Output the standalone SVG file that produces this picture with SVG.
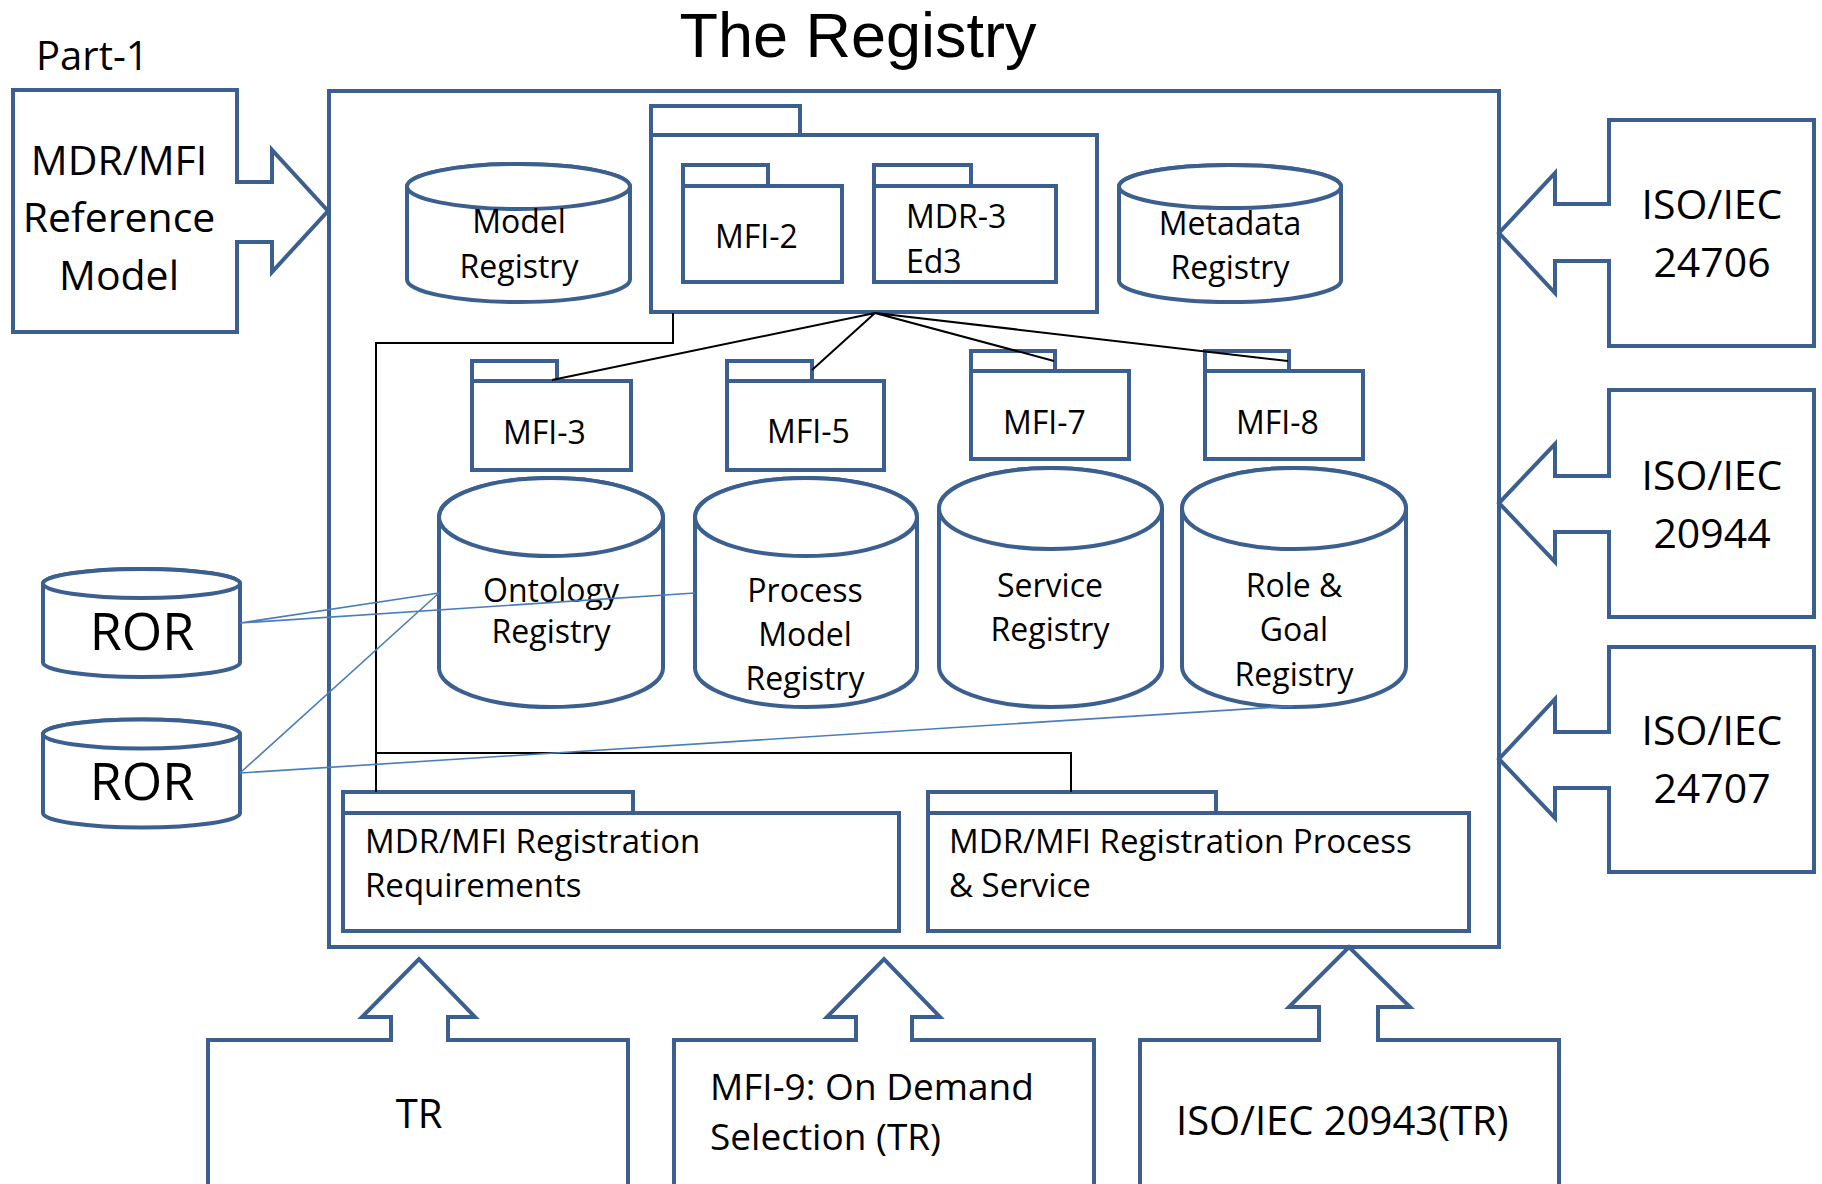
<svg xmlns="http://www.w3.org/2000/svg" width="1822" height="1184" viewBox="0 0 1822 1184">
<style>
.s{fill:#fff;stroke:#3b5f8e;stroke-width:4;stroke-linejoin:miter}
.t{font-family:"Open Sans","Noto Sans",sans-serif;fill:#000}
.c{text-anchor:middle}
.k{fill:none;stroke:#000;stroke-width:2}
.b{fill:none;stroke:#4a7ebb;stroke-width:1.6}
</style>
<rect width="1822" height="1184" fill="#fff"/>

<text x="858" y="57" font-family="'Liberation Sans',Arial,sans-serif" font-size="63" text-anchor="middle">The Registry</text>
<text class="t" x="36" y="70" font-size="40">Part-1</text>

<g id="registry">
<rect class="s" x="329" y="91" width="1170" height="856"/>
</g>

<g id="mdr-mfi-ref">
<path class="s" d="M13,90 H237 V182 H272 V150 L328,211 L272,272 V242 H237 V332 H13 Z"/>
<text class="t c" font-size="41"><tspan x="119" y="175">MDR/MFI</tspan><tspan x="119" y="232">Reference</tspan><tspan x="119" y="290">Model</tspan></text>
</g>

<g id="iso24706">
<path class="s" d="M1814,120 H1609 V204 H1555 V173 L1499,233 L1555,293 V261 H1609 V346 H1814 Z"/>
<text class="t c" font-size="41"><tspan x="1712" y="219">ISO/IEC</tspan><tspan x="1712" y="277">24706</tspan></text>
</g>
<g id="iso20944">
<path class="s" d="M1814,390 H1609 V476 H1555 V444 L1499,503 L1555,562 V532 H1609 V617 H1814 Z"/>
<text class="t c" font-size="41"><tspan x="1712" y="490">ISO/IEC</tspan><tspan x="1712" y="548">20944</tspan></text>
</g>
<g id="iso24707">
<path class="s" d="M1814,647 H1609 V732 H1555 V699 L1499,759 L1555,818 V788 H1609 V872 H1814 Z"/>
<text class="t c" font-size="41"><tspan x="1712" y="745">ISO/IEC</tspan><tspan x="1712" y="803">24707</tspan></text>
</g>

<g id="tr">
<path class="s" d="M208,1192 V1040 H391 V1017 H362 L419,959 L475,1017 H448 V1040 H628 V1192 Z"/>
<text class="t c" x="419" y="1128" font-size="40">TR</text>
</g>
<g id="mfi9">
<path class="s" d="M674,1192 V1040 H856 V1017 H827 L884,959 L940,1017 H912 V1040 H1094 V1192 Z"/>
<text class="t" font-size="37"><tspan x="710" y="1100">MFI-9: On Demand</tspan><tspan x="710" y="1150">Selection (TR)</tspan></text>
</g>
<g id="iso20943">
<path class="s" d="M1140,1192 V1040 H1319 V1007 H1289 L1349,947 L1410,1007 H1378 V1040 H1559 V1192 Z"/>
<text class="t" x="1176" y="1135" font-size="40">ISO/IEC 20943(TR)</text>
</g>

<g id="model-registry">
<path class="s" d="M407,186.5 V279.5 A111.5,22.5 0 0 0 630,279.5 V186.5 A111.5,22.5 0 0 0 407,186.5 Z"/>
<ellipse class="s" cx="518.5" cy="186.5" rx="111.5" ry="22.5"/>
<text class="t c" font-size="32"><tspan x="519" y="233">Model</tspan><tspan x="519" y="278">Registry</tspan></text>
</g>

<g id="mfi-container">
<rect class="s" x="651" y="106" width="149" height="29"/>
<rect class="s" x="651" y="135" width="446" height="177"/>
</g>
<g id="mfi2">
<rect class="s" x="683" y="165" width="85" height="21"/>
<rect class="s" x="683" y="186" width="159" height="96"/>
<text class="t" x="715" y="248" font-size="32">MFI-2</text>
</g>
<g id="mdr3">
<rect class="s" x="874" y="165" width="97" height="21"/>
<rect class="s" x="874" y="186" width="182" height="96"/>
<text class="t" font-size="32"><tspan x="906" y="228">MDR-3</tspan><tspan x="906" y="273">Ed3</tspan></text>
</g>

<g id="metadata-registry">
<path class="s" d="M1119,186.5 V280.5 A111,21.5 0 0 0 1341,280.5 V186.5 A111,21.5 0 0 0 1119,186.5 Z"/>
<ellipse class="s" cx="1230" cy="186.5" rx="111" ry="21.5"/>
<text class="t c" font-size="32"><tspan x="1230" y="235">Metadata</tspan><tspan x="1230" y="279">Registry</tspan></text>
</g>

<g id="mfi3">
<rect class="s" x="472" y="361" width="85" height="20"/>
<rect class="s" x="472" y="381" width="159" height="89"/>
<text class="t" x="503" y="444" font-size="32">MFI-3</text>
</g>
<g id="mfi5">
<rect class="s" x="727" y="361" width="85" height="20"/>
<rect class="s" x="727" y="381" width="157" height="89"/>
<text class="t" x="767" y="443" font-size="32">MFI-5</text>
</g>
<g id="mfi7">
<rect class="s" x="971" y="351" width="84" height="20"/>
<rect class="s" x="971" y="371" width="158" height="88"/>
<text class="t" x="1003" y="434" font-size="32">MFI-7</text>
</g>
<g id="mfi8">
<rect class="s" x="1205" y="351" width="84" height="20"/>
<rect class="s" x="1205" y="371" width="158" height="88"/>
<text class="t" x="1236" y="434" font-size="32">MFI-8</text>
</g>

<g id="ontology-registry">
<path class="s" d="M439,517 V668 A112,39 0 0 0 663,668 V517 A112,39 0 0 0 439,517 Z"/>
<ellipse class="s" cx="551" cy="517" rx="112" ry="39"/>
<text class="t c" font-size="32"><tspan x="551" y="602">Ontology</tspan><tspan x="551" y="643">Registry</tspan></text>
</g>
<g id="process-model-registry">
<path class="s" d="M695,517 V668 A111,39 0 0 0 917,668 V517 A111,39 0 0 0 695,517 Z"/>
<ellipse class="s" cx="806" cy="517" rx="111" ry="39"/>
<text class="t c" font-size="32"><tspan x="805" y="602">Process</tspan><tspan x="805" y="646">Model</tspan><tspan x="805" y="690">Registry</tspan></text>
</g>
<g id="service-registry">
<path class="s" d="M939,508.5 V666.5 A111.5,40.5 0 0 0 1162,666.5 V508.5 A111.5,40.5 0 0 0 939,508.5 Z"/>
<ellipse class="s" cx="1050.5" cy="508.5" rx="111.5" ry="40.5"/>
<text class="t c" font-size="32"><tspan x="1050" y="597">Service</tspan><tspan x="1050" y="641">Registry</tspan></text>
</g>
<g id="role-goal-registry">
<path class="s" d="M1182,508.5 V666.5 A112,40.5 0 0 0 1406,666.5 V508.5 A112,40.5 0 0 0 1182,508.5 Z"/>
<ellipse class="s" cx="1294" cy="508.5" rx="112" ry="40.5"/>
<text class="t c" font-size="32"><tspan x="1294" y="597">Role &amp;</tspan><tspan x="1294" y="641">Goal</tspan><tspan x="1294" y="686">Registry</tspan></text>
</g>

<g id="ror1">
<path class="s" d="M43,583.5 V662.5 A98.5,14.5 0 0 0 240,662.5 V583.5 A98.5,14.5 0 0 0 43,583.5 Z"/>
<ellipse class="s" cx="141.5" cy="583.5" rx="98.5" ry="14.5"/>
<text class="t c" x="142" y="650" font-size="52">ROR</text>
</g>
<g id="ror2">
<path class="s" d="M43,734 V813 A98.5,14.5 0 0 0 240,813 V734 A98.5,14.5 0 0 0 43,734 Z"/>
<ellipse class="s" cx="141.5" cy="734" rx="98.5" ry="14.5"/>
<text class="t c" x="142" y="800" font-size="52">ROR</text>
</g>

<g id="reg-requirements">
<rect class="s" x="343" y="792" width="290" height="21"/>
<rect class="s" x="343" y="813" width="556" height="118"/>
<text class="t" font-size="33"><tspan x="365" y="853">MDR/MFI Registration</tspan><tspan x="365" y="897">Requirements</tspan></text>
</g>
<g id="reg-process">
<rect class="s" x="928" y="792" width="288" height="21"/>
<rect class="s" x="928" y="813" width="541" height="118"/>
<text class="t" font-size="33"><tspan x="949" y="853">MDR/MFI Registration Process</tspan><tspan x="949" y="897">&amp; Service</tspan></text>
</g>

<g id="connectors">
<path class="k" d="M875,313 L552,380 M875,313 L812,370 M875,313 L1054,361 M875,313 L1288,361"/>
<path class="k" d="M673,313 V343 H376 V792"/>
<path class="k" d="M376,753 H1071 V792"/>
<path class="b" d="M240,623 L439,593 M240,623 L695,593 M240,773 L439,593 M240,773 L1293,706"/>
</g>
</svg>
